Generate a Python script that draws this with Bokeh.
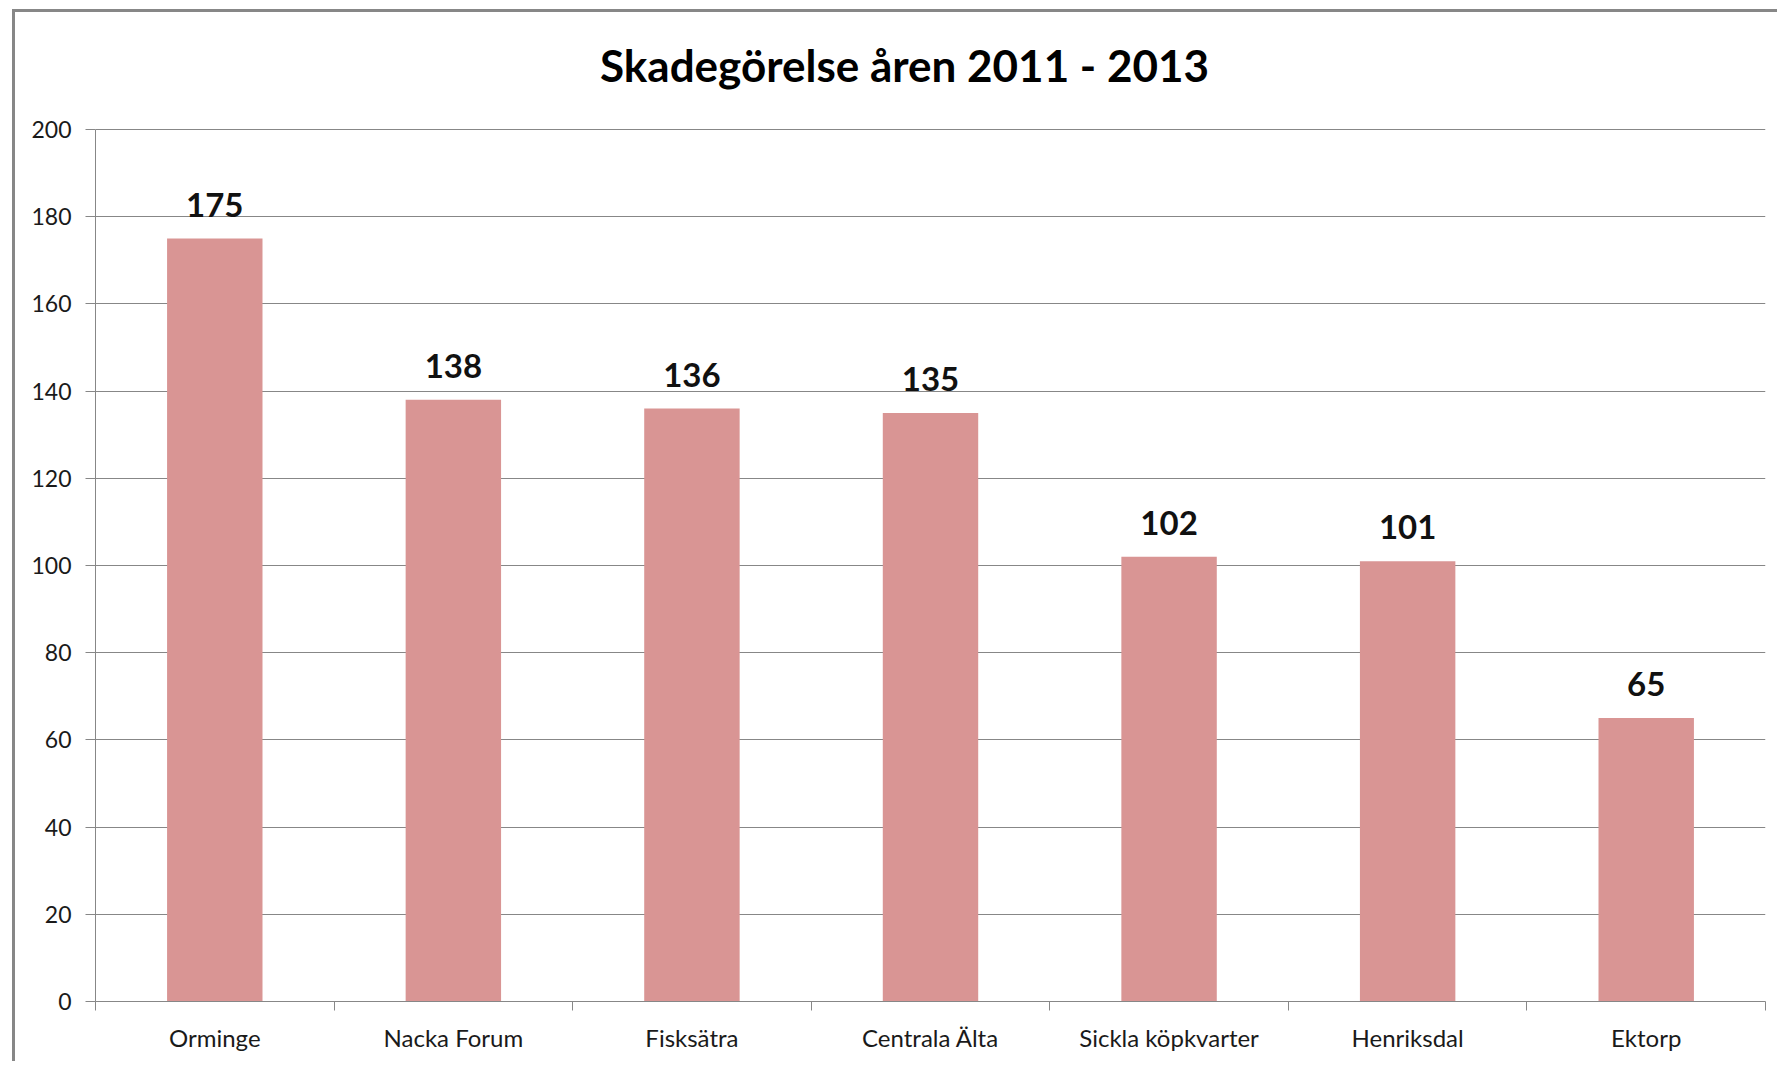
from bokeh.plotting import figure
from bokeh.models import FixedTicker, LabelSet, ColumnDataSource, Label, Range1d
from bokeh.core.properties import value
from bokeh.embed import file_html
from bokeh.resources import INLINE

categories = ["Orminge", "Nacka Forum", "Fisksätra", "Centrala Älta",
              "Sickla köpkvarter", "Henriksdal", "Ektorp"]
values = [175, 138, 136, 135, 102, 101, 65]
y_ticks = [0, 20, 40, 60, 80, 100, 120, 140, 160, 180, 200]
title_text = "Skadegörelse åren 2011 - 2013"

GRAY = "#878787"
BAR = "#D99594"
FONT = "Lato"

centers = [i + 0.5 for i in range(len(categories))]
bounds = list(range(len(categories) + 1))

src = ColumnDataSource(dict(x=centers, top=values, lab=[str(v) for v in values]))

# frame extends above the 200 line to leave room for the title inside the frame
Y_TOP = 225
p = figure(width=1765, height=1052,
           x_range=Range1d(0, len(categories)), y_range=Range1d(y_ticks[0], Y_TOP),
           output_backend="svg", toolbar_location=None,
           min_border_left=80, min_border_right=15, min_border_top=8, min_border_bottom=63)
p.styles = {"margin-left": "12px", "margin-top": "9px",
            "border-left": f"3px solid {GRAY}", "border-top": f"3px solid {GRAY}"}
p.outline_line_color = None
p.background_fill_color = "white"
p.border_fill_color = "white"

p.vbar(x="x", top="top", width=0.4, bottom=0, source=src,
       fill_color=BAR, line_color=None)

labels = LabelSet(x="x", y="top", text="lab", source=src, y_offset=22,
                  text_align="center", text_baseline="alphabetic",
                  text_font=value(FONT), text_font_style="bold",
                  text_font_size="33px", text_color="#111111")
p.add_layout(labels)

# Axes
p.xgrid.visible = False
p.ygrid.ticker = FixedTicker(ticks=y_ticks)
p.ygrid.grid_line_color = GRAY
p.ygrid.grid_line_width = 1

ya = p.yaxis[0]
ya.ticker = FixedTicker(ticks=y_ticks)
ya.bounds = (y_ticks[0], y_ticks[-1])
ya.axis_line_color = GRAY
ya.major_tick_line_color = GRAY
ya.major_tick_out = 10
ya.major_tick_in = 0
ya.minor_tick_line_color = None
ya.major_label_standoff = 14
ya.major_label_text_font = FONT
ya.major_label_text_font_size = "23px"
ya.major_label_text_color = "#1a1a1a"

xa = p.xaxis[0]
xa.ticker = FixedTicker(ticks=centers, minor_ticks=bounds)
xa.major_label_overrides = {c: n for c, n in zip(centers, categories)}
xa.axis_line_color = GRAY
xa.major_tick_line_color = None
xa.major_tick_out = 0
xa.major_tick_in = 0
xa.minor_tick_line_color = GRAY
xa.minor_tick_out = 9
xa.minor_tick_in = 0
xa.major_label_standoff = 12
xa.major_label_text_font = FONT
xa.major_label_text_font_size = "24px"
xa.major_label_text_color = "#1a1a1a"

title = Label(x=len(categories) / 2, y=y_ticks[-1], x_offset=-26, y_offset=65,
              text=title_text, text_align="center", text_baseline="alphabetic",
              text_font=FONT, text_font_style="bold", text_font_size="44px",
              text_color="black")
p.add_layout(title)

open("out.html", "w").write(file_html(p, INLINE))
